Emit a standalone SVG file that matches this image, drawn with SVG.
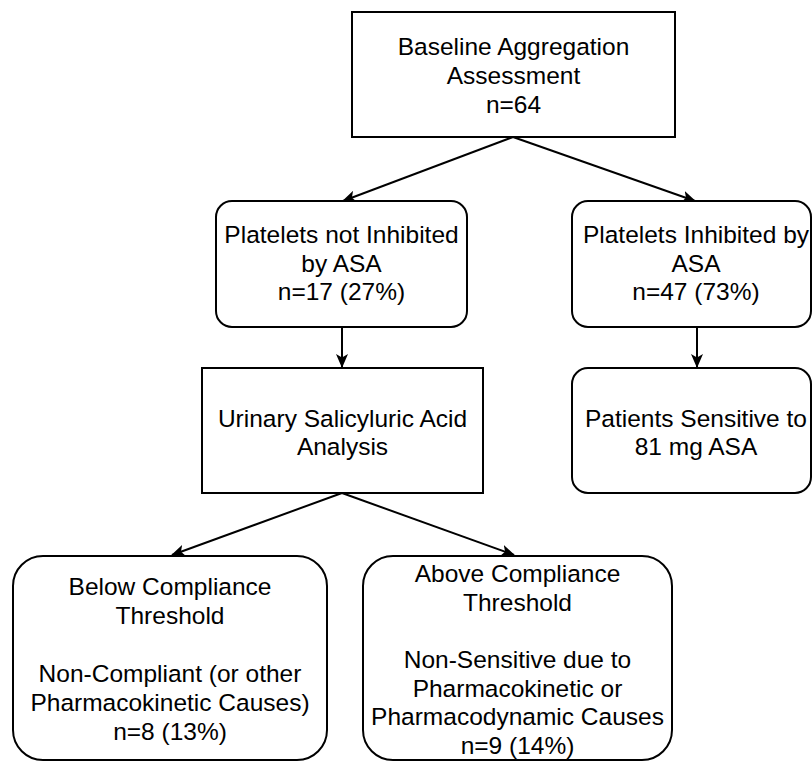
<svg xmlns="http://www.w3.org/2000/svg" width="812" height="762" viewBox="0 0 812 762">
<defs>
<style>
.box{fill:#fff;stroke:#000;stroke-width:2}
.t{font-family:"Liberation Sans",Arial,Helvetica,sans-serif;font-size:24.5px;fill:#000;text-anchor:middle}
.c{fill:none;stroke:#000;stroke-width:2}
</style>
<marker id="ah" viewBox="0 0 14 12" refX="13" refY="6" markerWidth="14" markerHeight="12" markerUnits="userSpaceOnUse" orient="auto">
<path d="M0,0 L14,6 L0,12 L3.5,6 Z" fill="#000"/>
</marker>
</defs>
<rect width="812" height="762" fill="#fff"/>
<g id="connectors">
<line class="c" x1="513" y1="137" x2="343" y2="201" marker-end="url(#ah)"/>
<line class="c" x1="513" y1="137" x2="695" y2="201" marker-end="url(#ah)"/>
<line class="c" x1="342" y1="327" x2="342" y2="367" marker-end="url(#ah)"/>
<line class="c" x1="697" y1="327" x2="697" y2="367" marker-end="url(#ah)"/>
<line class="c" x1="342" y1="493" x2="172" y2="555" marker-end="url(#ah)"/>
<line class="c" x1="342" y1="493" x2="514" y2="555" marker-end="url(#ah)"/>
</g>
<g id="baseline">
<rect class="box" x="352" y="12" width="323" height="125"/>
<text class="t" x="513.5" y="55">Baseline Aggregation</text>
<text class="t" x="513.5" y="84">Assessment</text>
<text class="t" x="513.5" y="113">n=64</text>
</g>
<g id="not-inhibited">
<rect class="box" x="216" y="201" width="251" height="126" rx="16" ry="16"/>
<text class="t" x="341.5" y="243">Platelets not Inhibited</text>
<text class="t" x="341.5" y="272">by ASA</text>
<text class="t" x="341.5" y="300">n=17 (27%)</text>
</g>
<g id="inhibited">
<rect class="box" x="572" y="201" width="239" height="126" rx="16" ry="16"/>
<text class="t" x="696" y="243">Platelets Inhibited by</text>
<text class="t" x="696" y="272">ASA</text>
<text class="t" x="696" y="300">n=47 (73%)</text>
</g>
<g id="urinary">
<rect class="box" x="202" y="368" width="281" height="125"/>
<text class="t" x="342.5" y="427">Urinary Salicyluric Acid</text>
<text class="t" x="342.5" y="455">Analysis</text>
</g>
<g id="sensitive">
<rect class="box" x="572" y="368" width="239" height="125" rx="16" ry="16"/>
<text class="t" x="696" y="427">Patients Sensitive to</text>
<text class="t" x="696" y="455">81 mg ASA</text>
</g>
<g id="below">
<rect class="box" x="13" y="556" width="314" height="204" rx="30" ry="30"/>
<text class="t" x="170" y="595">Below Compliance</text>
<text class="t" x="170" y="624">Threshold</text>
<text class="t" x="170" y="682">Non-Compliant (or other</text>
<text class="t" x="170" y="711">Pharmacokinetic Causes)</text>
<text class="t" x="170" y="740">n=8 (13%)</text>
</g>
<g id="above">
<rect class="box" x="363" y="556" width="309" height="204" rx="30" ry="30"/>
<text class="t" x="517.5" y="582">Above Compliance</text>
<text class="t" x="517.5" y="611">Threshold</text>
<text class="t" x="517.5" y="668">Non-Sensitive due to</text>
<text class="t" x="517.5" y="697">Pharmacokinetic or</text>
<text class="t" x="517.5" y="725">Pharmacodynamic Causes</text>
<text class="t" x="517.5" y="754">n=9 (14%)</text>
</g>
</svg>
